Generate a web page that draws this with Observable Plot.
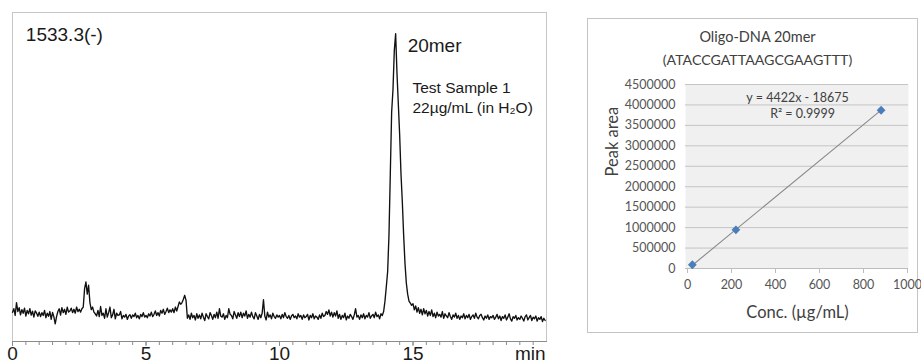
<!DOCTYPE html>
<html>
<head>
<meta charset="utf-8">
<script src="https://cdn.jsdelivr.net/npm/d3@7"></script>
<script src="https://cdn.jsdelivr.net/npm/@observablehq/plot@0.6"></script>
<style>
  html, body { margin: 0; padding: 0; background: #fff; }
  #wrap { position: relative; width: 921px; height: 363px; overflow: hidden; background: #fff; }
  #left { position: absolute; left: 0; top: 0; }
  #right { position: absolute; left: 560px; top: 0; }
  #box { position: absolute; left: 587px; top: 18px; width: 331px; height: 315px; border: 1px solid #c4c4c4; box-sizing: border-box; }
</style>
</head>
<body>
<div id="wrap">
  <div id="box"></div>
  <div id="left"></div>
  <div id="right"></div>
</div>
<script>
// ---------- Chromatogram (left) ----------
const sampleStart = 0;      // min
const sampleStep = 0.05;    // min
const signal = [
  0.5, 1.8, -0.6, 4.0, 0.8, 2.2, -0.4, 1.5, 0.2, 2.0, -0.8, 1.2, 0.0, 1.8, -0.5, 0.9, -1.2, 1.0, 0.3, -0.9,
  0.6, -1.0, 0.4, -0.6, 1.2, -1.4, 0.2, -0.9, 0.8, -2.0, 0.5, -1.1, -3.6, -1.0, 0.8, 1.8, -0.5, 2.2, 0.4, 1.6,
  -0.2, 2.4, 0.6, 1.0, 2.0, 0.4, 1.6, 0.2, 2.4, 0.8, 1.6, 0.6, 1.8, 2.4, 9.0, 11.4, 7.0, 10.2, 4.0, 1.5,
  2.4, 0.6, 0.0, -0.8, 1.2, -1.0, 2.6, -0.6, 0.2, -1.6, 1.8, -1.2, 0.4, 2.4, -1.4, -0.4, 1.6, -1.8, 0.2, -0.6,
  -0.4, 0.8, -1.8, -0.6, -1.2, -0.2, -2.0, -0.8, -0.3, -1.6, -0.4, -1.0, 0.2, -1.4, -0.6, -1.8, -0.2, -1.0, 0.4, -1.2,
  -0.6, -1.4, 0.0, -0.8, 0.6, -1.0, -0.2, 1.0, -0.6, 0.4, -0.8, 1.2, 0.2, 1.6, -0.2, 0.8, 2.0, 0.4, 1.4, 0.6,
  1.8, 0.4, 2.4, 1.0, 2.6, 4.2, 3.4, 4.0, 5.2, 6.6, 4.8, -1.6, -0.4, -2.0, 0.2, -1.4, -0.6, -2.2, 0.0, -1.6,
  -0.4, -1.8, 0.2, -1.2, -2.4, 0.0, -1.0, -1.8, 0.4, -0.6, -2.0, -0.2, -1.4, 0.6, -1.6, 1.8, -0.8, -1.2, 0.0, -2.0,
  -0.6, -1.4, 1.8, -0.2, -0.6, -1.8, 0.8, -0.4, -1.6, 0.4, -1.0, 0.6, -1.4, 0.2, -0.8, 1.0, -1.6, -0.2, -1.2, 0.6,
  -1.0, -1.8, 0.4, -0.8, -2.0, -0.2, -1.4, 0.2, 5.0, -0.8, -2.2, 0.6, -1.2, -0.4, -1.8, 0.2, -1.0, -1.6, -0.4, -1.2,
  -0.6, -1.8, -0.2, -1.4, 0.4, -1.0, -1.6, -0.6, -2.0, -0.8, -0.2, -1.4, -0.8, -1.8, 0.0, -1.2, -0.6, -2.0, -0.4, -1.4,
  -1.0, -0.2, -2.2, -0.6, -1.4, 0.0, -1.8, -0.8, -1.2, -2.0, -0.4, -1.6, 0.2, -1.0, -0.6, 0.8, -0.2, 1.4, -0.8, 0.6,
  -1.2, 0.4, -0.8, 1.0, -1.6, -0.2, -2.0, -0.6, -1.4, 0.2, -2.2, -0.8, -1.6, -0.2, -1.0, -2.0, -0.4, 1.8, -1.2, -0.6,
  -2.0, -0.4, -1.4, 0.0, -1.8, -0.6, -1.2, 0.4, -1.6, -0.8, -0.2, -1.4, 0.6, -1.0, -0.4, -1.8, 0.0, -0.6, 0.8, 4.5,
  9.6, 15, 28, 50, 72, 80, 94, 100, 86, 75, 64, 50, 40, 28, 18, 11, 7, 4.5, 3.8, 3.0,
  3.6, 1.4, 2.8, 0.6, 2.2, 0.2, 1.6, -0.4, 1.8, 0.0, 1.2, -0.8, 0.8, -0.6, 1.4, -1.0, 0.2, -1.4, 0.6, -0.8,
  -0.2, -1.2, 0.8, -1.6, 0.0, -0.8, -1.4, 0.4, -1.0, -2.0, -0.4, -1.2, 0.2, -1.6, -0.6, -2.0, -0.8, -1.4, 0.0, -1.8,
  -0.6, -1.4, -0.2, -2.0, -1.0, -0.4, -1.6, 0.2, -1.2, -1.8, -0.6, -0.2, -1.4, -2.2, -0.8, -1.6, -0.4, -2.0, -1.0, -1.4,
  -0.6, -2.0, -1.2, -0.2, -1.8, -0.8, -2.4, -1.0, -1.6, -0.4, -2.2, -1.2, 0.0, -1.8, -2.6, -1.0, -1.6, -0.6, -2.2, -1.4,
  -2.0, -0.8, -1.6, -2.6, -1.0, -0.4, -2.2, -1.4, -0.6, -2.4, -1.2, -1.8, -0.8, -2.6, -1.4, -2.0, -1.0, -2.8, -1.6, -2.4
];
const timeMajorTicks = [0, 5, 10, 15];
const timeUnitLabel = "min";
const timeEnd = 20;
const chromLabels = [
  {t: 0.5,  v: 99.5, text: "1533.3(-)", size: 19},
  {t: 14.8, v: 95.5, text: "20mer", size: 19},
  {t: 14.98, v: 80.5, text: "Test Sample 1", size: 15.5},
  {t: 14.98, v: 73.4, text: "22µg/mL (in H₂O)", size: 15.5}
];

const chrom = signal.map((v, i) => ({t: sampleStart + i * sampleStep, v}));

const leftFont = "'Liberation Sans', Arial, sans-serif";
const left = Plot.plot({
  width: 560,
  height: 363,
  marginLeft: 12,
  marginRight: 14,
  marginTop: 12,
  marginBottom: 22,
  style: {fontFamily: leftFont, background: "transparent", color: "#222"},
  x: {domain: [0, timeEnd]},
  y: {domain: [-9.9, 107.6], axis: null},
  marks: [
    Plot.frame({stroke: "#c6c6c6"}),
    Plot.frame({anchor: "bottom", stroke: "#8c8c8c"}),
    Plot.axisX({ticks: d3.range(0, timeEnd - 0.001, 0.5), tickFormat: () => "", tickSize: 4, stroke: "#8c8c8c", label: null}),
    Plot.axisX({ticks: timeMajorTicks, tickSize: 5, tickPadding: 0, fontSize: 19, fill: "#1a1a1a", stroke: "#8c8c8c", label: null}),
    Plot.axisX({ticks: [timeEnd], tickFormat: () => timeUnitLabel, tickSize: 0, tickPadding: 5, dx: -1, textAnchor: "end", fontSize: 19, fill: "#1a1a1a", label: null}),
    Plot.line(chrom, {x: "t", y: "v", stroke: "#111", strokeWidth: 1.35}),
    Plot.text(chromLabels, {x: "t", y: "v", text: "text", fontSize: "size", textAnchor: "start", fill: "#1a1a1a"})
  ]
});
document.getElementById("left").append(left);

// ---------- Calibration curve (right) ----------
const concentration = [22, 220, 880];          // µg/mL
const peakArea = [92000, 945000, 3870000];
const slope = 4422, intercept = -18675;
const titleLines = ["Oligo-DNA 20mer", "(ATACCGATTAAGCGAAGTTT)"];
const equationText = ["y = 4422x - 18675", "R² = 0.9999"];
const equationPos = [{x: 500, y: 4160000}, {x: 523, y: 3790000}];
const xTicks = [0, 200, 400, 600, 800, 1000];
const yTicks = d3.range(0, 4500001, 500000);

const calib = concentration.map((c, i) => ({c, a: peakArea[i]}));
const fitLine = [concentration[0], concentration[concentration.length - 1]].map(c => ({c, a: slope * c + intercept}));
const eqData = equationText.map((text, i) => ({...equationPos[i], text}));

const rightFont = "Lato, 'Open Sans', sans-serif";
const right = Plot.plot({
  width: 361,
  height: 363,
  marginLeft: 127,
  marginRight: 14,
  marginTop: 84,
  marginBottom: 95,
  style: {fontFamily: rightFont, background: "transparent", color: "#595959"},
  x: {domain: [0, 1000]},
  y: {domain: [0, 4500000]},
  marks: [
    Plot.frame({fill: "#f0f0f0", stroke: null, insetLeft: -2, insetRight: -1}),
    Plot.gridY(yTicks, {stroke: "#c4c4c4", strokeOpacity: 1, insetLeft: -2, insetRight: -1}),
    Plot.ruleY([0], {stroke: "#bdbdbd", insetLeft: -2, insetRight: -1}),
    Plot.axisY({ticks: yTicks, tickFormat: d3.format("d"), tickSize: 0, tickPadding: 12, fontSize: 12.5, fill: "#555", label: null}),
    Plot.axisX({ticks: xTicks, tickFormat: d3.format("d"), tickSize: 5, tickPadding: 7, fontSize: 12.5, fill: "#555", stroke: "#bdbdbd", label: null}),
    Plot.line(fitLine, {x: "c", y: "a", stroke: "#8a8a8a", strokeWidth: 1.1}),
    Plot.dot(calib, {x: "c", y: "a", symbol: "square", r: 3.5, rotate: 45, fill: "#4a7ebb", stroke: null}),
    Plot.text(eqData, {x: "x", y: "y", text: "text", fontSize: 12.5, fill: "#404040"}),
    Plot.text([titleLines[0]], {frameAnchor: "top-left", dx: 70, dy: -47, textAnchor: "middle", lineAnchor: "middle", text: d => d, fontSize: 14.5, fill: "#404040"}),
    Plot.text([titleLines[1]], {frameAnchor: "top-left", dx: 70, dy: -24, textAnchor: "middle", lineAnchor: "middle", text: d => d, fontSize: 14.2, fill: "#404040"}),
    Plot.text(["Peak area"], {frameAnchor: "left", dx: -75, rotate: -90, lineAnchor: "middle", text: d => d, fontSize: 16.5, fill: "#404040"}),
    Plot.text(["Conc. (µg/mL)"], {frameAnchor: "bottom", dy: 44, lineAnchor: "middle", text: d => d, fontSize: 16.5, fill: "#404040"})
  ]
});
document.getElementById("right").append(right);
</script>
</body>
</html>
